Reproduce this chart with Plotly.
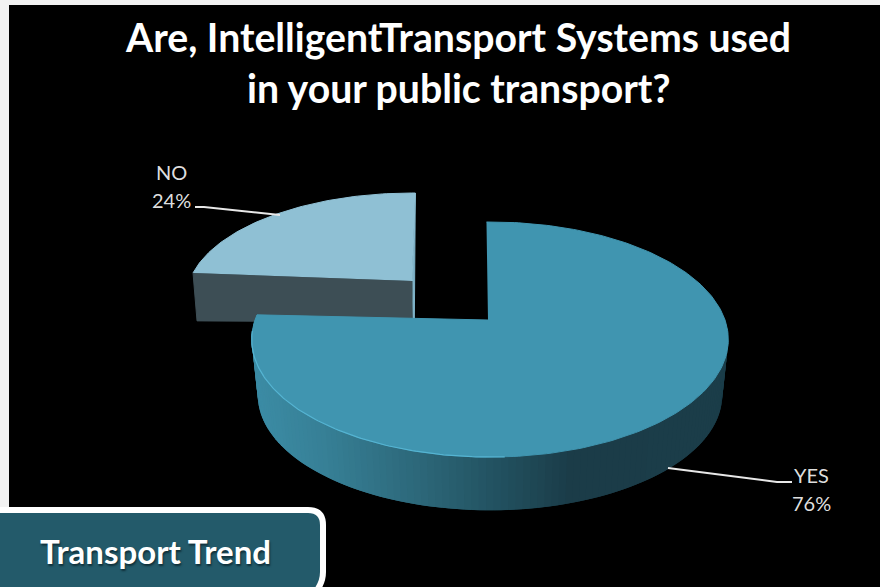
import numpy as np
import plotly.graph_objects as go

categories = ["YES", "NO"]
values = [76, 24]
title_lines = ["Are, IntelligentTransport Systems used", "in your public transport?"]
banner_text = "Transport Trend"

W, H = 880, 587
K = 0.166  # perspective strength of the tilted disc


def rim(theta_deg, cx, cy, a, b, rot):
    t = np.radians(np.asarray(theta_deg, dtype=float) + rot)
    w = 1 + K * np.cos(t)
    return cx + a * np.sin(t) / w, cy - b * np.cos(t) / w


total = sum(values)
yes_sweep = 360 * values[0] / total

fig = go.Figure()


def poly(xs, ys, fill, lw=1):
    fig.add_trace(go.Scatter(x=list(xs), y=list(ys), mode="lines", fill="toself", fillcolor=fill,
                             line=dict(color=fill, width=lw), hoverinfo="skip", showlegend=False))


def stroke(xs, ys, color, lw):
    fig.add_trace(go.Scatter(x=list(xs), y=list(ys), mode="lines", line=dict(color=color, width=lw),
                             hoverinfo="skip", showlegend=False))


# NO slice (exploded, behind)
N = dict(cx=412, cy=281, a=222.6, b=102.6, rot=1)
th = np.linspace(yes_sweep, 360, 80)
tx, ty = rim(th, **N)
poly([tx[-1], tx[-1] - 1, N["cx"] + 1, N["cx"]], [ty[-1], 322, 322, N["cy"]], "#7fb3c8")
poly([tx[0], tx[0] + 4, N["cx"], N["cx"]], [ty[0], ty[0] + 48, N["cy"] + 41, N["cy"]], "#3d4e55")
poly(list(tx) + [N["cx"]], list(ty) + [N["cy"]], "#8fc0d4")

# YES slice: wall with a horizontal light-to-dark gradient
apex_x, apex_y = 488, 320
Y = dict(cx=490, cy=320, a=235, b=114.3, rot=-1)
YL = dict(cx=490, cy=376, a=229, b=112, rot=-1)
stops = [(0.0, (60, 140, 165)), (0.15, (55, 128, 150)), (0.35, (45, 104, 122)),
         (0.55, (33, 78, 92)), (0.68, (27, 60, 72)), (1.0, (28, 62, 74))]
edges = np.linspace(yes_sweep, 90, 121)
# each band overlaps the one before it so no seams appear
for t0, t1 in zip(edges[:-2], edges[2:]):
    seg = np.linspace(t0, t1, 5)
    ux, uy = rim(seg, **Y)
    lx, ly = rim(seg, **YL)
    f = float(np.clip((ux.mean() - 255) / (728 - 255), 0, 1))
    rgb = [np.interp(f, [s[0] for s in stops], [s[1][i] for s in stops]) for i in range(3)]
    col = "rgb(%d,%d,%d)" % tuple(rgb)
    poly(list(ux) + list(lx[::-1]), list(uy) + list(ly[::-1]), col, lw=0)

th = np.linspace(0, yes_sweep, 240)
tx, ty = rim(th, **Y)
poly(list(tx) + [apex_x], list(ty) + [apex_y], "#4095b0")
rx, ry = rim(np.linspace(178, yes_sweep - 8, 120), **Y)
stroke(rx, ry, "#55b4d2", 1.2)

# leader lines
stroke([195, 204, 280], [207, 207, 215], "#e8e8e8", 2)
stroke([668, 777, 792], [468, 482, 482], "#e8e8e8", 2)

bold = dict(family="Lato", size=39.2, color="#ffffff", weight="bold")
lab = dict(family="Lato", size=20, color="#dedede")
annotations = [
    dict(x=458, y=36, text=title_lines[0], font=bold),
    dict(x=458, y=87, text=title_lines[1], font=bold),
    dict(x=171, y=172, text=categories[1], font=lab),
    dict(x=171, y=200, text=f"{values[1]}%", font=lab),
    dict(x=811, y=475, text=categories[0], font=lab),
    dict(x=811, y=503, text=f"{values[0]}%", font=lab),
    dict(x=155, y=551, text=banner_text, font=dict(family="Lato", size=33, color="#ffffff", weight="bold",
                                                 shadow="1px 2px 2px #10303a")),
]
for a in annotations:
    a.update(xref="x", yref="y", showarrow=False, xanchor="center", yanchor="middle")

shapes = [
    dict(type="rect", xref="x", yref="y", x0=9, x1=W + 5, y0=5, y1=H + 5, layer="below",
         fillcolor="#000000", line=dict(width=0)),
    dict(type="path", xref="x", yref="y", layer="above", fillcolor="#235a6a",
         line=dict(color="#ffffff", width=6),
         path="M -10 510 L 308 510 Q 323 510 323 525 L 323 572 Q 323 587 308 600 L -10 600 Z"),
]

fig.update_layout(
    width=W, height=H, margin=dict(l=0, r=0, t=0, b=0), paper_bgcolor="#f2f2f2", plot_bgcolor="rgba(0,0,0,0)",
    xaxis=dict(range=[0, W], visible=False, fixedrange=True),
    yaxis=dict(range=[H, 0], visible=False, fixedrange=True),
    annotations=annotations, shapes=shapes, showlegend=False,
)
fig.write_html("out.html", config=dict(displayModeBar=False),
               post_script="document.body.style.margin='0';document.body.style.overflow='hidden';")
